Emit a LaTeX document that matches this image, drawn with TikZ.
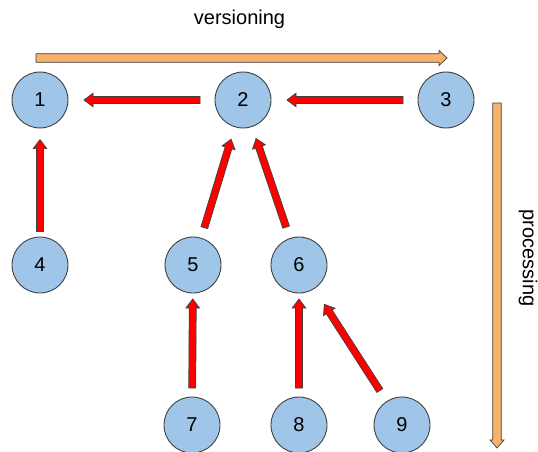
\documentclass[tikz,border=0pt]{standalone}
\usepackage{fontspec}
\setmainfont{Liberation Sans}
\usetikzlibrary{calc}
\definecolor{cblue}{HTML}{9FC5E8}
\definecolor{cred}{HTML}{FF0000}
\definecolor{corange}{HTML}{F6B26B}
\definecolor{cedge}{HTML}{404040}
% #1 from, #2 to, #3 start dist, #4 end dist, #5 half shaft, #6 half head, #7 head length, #8 fill
\newcommand\blockarrow[8]{%
  \coordinate (bs) at ($(#1)!#3!(#2)$);
  \coordinate (be) at ($(#2)!#4!(#1)$);
  \coordinate (bh) at ($(be)!#7!(bs)$);
  \draw[barrow,fill=#8] ($(bs)!#5!90:(be)$) -- ($(bh)!#5!-90:(bs)$) -- ($(bh)!#6!-90:(bs)$) -- (be)
    -- ($(bh)!#6!90:(bs)$) -- ($(bh)!#5!90:(bs)$) -- ($(bs)!#5!-90:(be)$) -- cycle;
}
\begin{document}
\begin{tikzpicture}[x=1pt,y=-1pt,
  vnode/.style={circle,draw=cedge,line width=0.9pt,fill=cblue,minimum size=56pt,inner sep=0pt,
    font=\fontsize{20}{24}\selectfont},
  barrow/.style={draw=cedge,line width=0.7pt,line join=miter},
  lbl/.style={font=\fontsize{20}{24}\selectfont,inner sep=0pt}]
\useasboundingbox[fill=white] (0,0) rectangle (538,452);
\node[vnode] (n1) at (40,100) {1};
\node[vnode] (n2) at (243,100) {2};
\node[vnode] (n3) at (446,100) {3};
\node[vnode] (n4) at (40,265) {4};
\node[vnode] (n5) at (193,265) {5};
\node[vnode] (n6) at (299,265) {6};
\node[vnode] (n7) at (192,425) {7};
\node[vnode] (n8) at (299,425) {8};
\node[vnode] (n9) at (402,425) {9};
\node[lbl] (tv) at (239.5,19) {versioning};
\node[lbl,rotate=-90] (tp) at (528,258) {processing};
\coordinate (oh1) at (36,58);
\coordinate (oh2) at (447,58);
\coordinate (ov1) at (497,103);
\coordinate (ov2) at (497,448);
\blockarrow{oh1}{oh2}{0pt}{0pt}{4.3pt}{7.5pt}{8pt}{corange}
\blockarrow{ov1}{ov2}{0pt}{0pt}{4.3pt}{7pt}{8pt}{corange}
\blockarrow{n3}{n2}{43pt}{44pt}{3.5pt}{6.8pt}{9pt}{cred}
\blockarrow{n2}{n1}{43pt}{44pt}{3.5pt}{6.8pt}{9pt}{cred}
\blockarrow{n4}{n1}{33.5pt}{39.6pt}{3.5pt}{6.8pt}{9pt}{cred}
\blockarrow{n5}{n2}{39pt}{41pt}{3.5pt}{6.8pt}{9pt}{cred}
\blockarrow{n6}{n2}{40pt}{40.6pt}{3.5pt}{6.8pt}{9pt}{cred}
\blockarrow{n7}{n5}{37pt}{34pt}{3.5pt}{6.8pt}{9pt}{cred}
\blockarrow{n8}{n6}{37pt}{34pt}{3.5pt}{6.8pt}{9pt}{cred}
\blockarrow{n9}{n6}{41pt}{46.8pt}{3.5pt}{6.8pt}{9pt}{cred}
\end{tikzpicture}
\end{document}
